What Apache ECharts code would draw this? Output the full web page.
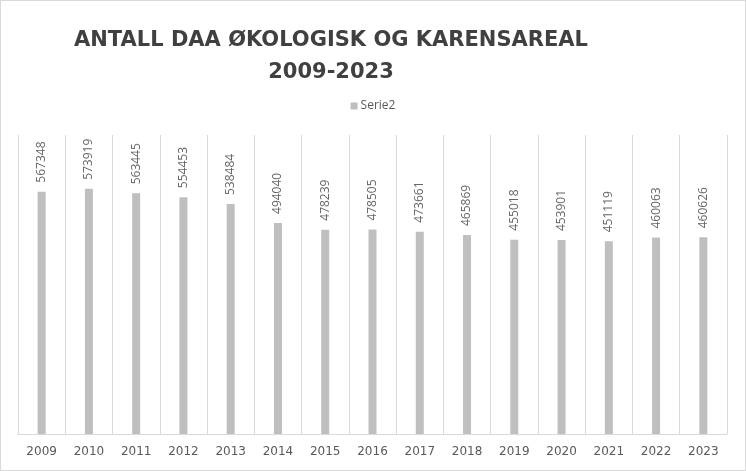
<!DOCTYPE html>
<html><head><meta charset="utf-8">
<script src="https://cdn.jsdelivr.net/npm/echarts@6/dist/echarts.min.js"></script>
<style>html,body{margin:0;padding:0;background:#fff}#c{width:746px;height:471px;box-sizing:border-box;border:1px solid #d9d9d9}</style>
</head><body><div id="c"></div>
<script>
const years = ['2009','2010','2011','2012','2013','2014','2015','2016','2017','2018','2019','2020','2021','2022','2023'];
const serie2 = [567348,573919,563445,554453,538484,494040,478239,478505,473661,465869,455018,453901,451119,460063,460626];
const titleText = 'ANTALL DAA ØKOLOGISK OG KARENSAREAL\n2009-2023';
const seriesName = 'Serie2';

const chart = echarts.init(document.getElementById('c'));
chart.setOption({
  animation: false,
  title: {
    text: titleText, left: 325, textAlign: 'center', top: 19,
    textStyle: {fontFamily: 'DejaVu Sans', fontWeight: 'bold', fontSize: 21, color: '#404040', lineHeight: 32}
  },
  legend: {
    data: [seriesName], top: 94, left: 'center', itemWidth: 7, itemHeight: 7, itemGap: 4,
    icon: 'rect',
    textStyle: {fontFamily: 'Open Sans', fontSize: 12, color: '#595959', padding:[0,0,0,-2]}
  },
  grid: {left: 17, right: 18, top: 134, bottom: 36},
  xAxis: {
    type: 'category', data: years,
    axisLine: {lineStyle: {color: '#d9d9d9'}},
    axisTick: {show: false},
    splitLine: {show: true, lineStyle: {color: '#d9d9d9'}},
    axisLabel: {fontFamily: 'DejaVu Sans', fontSize: 12, color: '#595959', margin: 12}
  },
  yAxis: {
    type: 'value', min: 0, max: 700000, show: false, splitLine: {show: false}
  },
  series: [{
    name: seriesName, type: 'bar', data: serie2, barWidth: 8,
    itemStyle: {color: '#bfbfbf'},
    label: {show: true, position: 'top', rotate: 90, align: 'left', verticalAlign: 'middle', distance: 9,
      fontFamily: 'Open Sans', fontSize: 12, color: '#666666'}
  }]
});
</script></body></html>
